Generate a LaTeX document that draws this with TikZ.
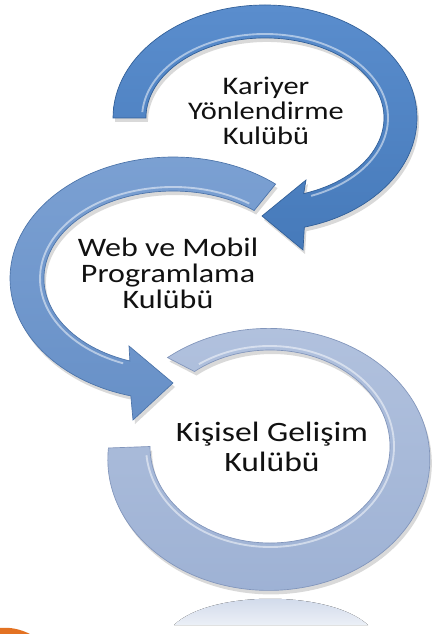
\documentclass[tikz,border=0pt]{standalone}
\usepackage{fontspec}
\setmainfont{Carlito}
\definecolor{ringAmain}{HTML}{467ABA}
\definecolor{ringAtop}{HTML}{5A8DCD}
\definecolor{ringAdark}{HTML}{305E97}
\definecolor{ringBmain}{HTML}{6790C7}
\definecolor{ringBtop}{HTML}{7CA1D3}
\definecolor{ringBdark}{HTML}{4B73A9}
\definecolor{ringCmain}{HTML}{9DB1D4}
\definecolor{ringCtop}{HTML}{B2C2DE}
\definecolor{ringCdark}{HTML}{8195BB}
\definecolor{txt}{HTML}{111111}
\definecolor{orangeblob}{HTML}{E37222}
% ring shapes (coordinates: pixels, y upwards negative)
\newcommand\shapeRingA[1]{\path[#1] (113,-118)
  arc[start angle=180,end angle=-75,x radius=152,y radius=113]
  -- (303,-250) -- (262,-216) -- (306,-180) -- (303.7,-193.6)
  arc[start angle=-71,end angle=180,x radius=119,y radius=80] -- cycle;}
\newcommand\shapeRingB[1]{\path[#1] (275.6,-184.1)
  arc[start angle=51,end angle=255,x radius=163,y radius=121.5]
  -- (133,-420) -- (173,-383) -- (129,-346) -- (129.9,-361)
  arc[start angle=250.5,end angle=51,x radius=129,y radius=87.5] -- cycle;}
\newcommand\shapeRingC[1]{\path[#1] (167.5,-357.6)
  arc[start angle=129,end angle=-185,x radius=161,y radius=131]
  -- (150,-446.5)
  arc[start angle=-180,end angle=129,x radius=120,y radius=96.5] -- cycle;}
\begin{document}
\begin{tikzpicture}[x=0.75pt,y=0.75pt,
  ringtext/.style={align=center, text=txt, inner sep=0pt, xscale=1.2},
  shadowfill/.style={fill=black, opacity=0.15},
  hilite/.style={draw=white, opacity=0.5, line width=1.4},
]
\useasboundingbox (0,0) rectangle (433,-634);
\fill[white] (0,0) rectangle (433,-634);

% reflection of the lower ring
\fill[top color=ringCmain!55!white, bottom color=ringCmain!20!white]
  (174,-625) .. controls (210,-590) and (330,-590) .. (368,-625) -- cycle;
% orange fragment, bottom left
\fill[orangeblob] (0,-628) .. controls (10,-627) and (20,-629) .. (30,-634) -- (0,-634) -- cycle;

% lower ring
\begin{scope}[shift={(2,-4)}]\shapeRingC{shadowfill}\end{scope}
\shapeRingC{top color=ringCtop, bottom color=ringCmain, draw=ringCdark, line width=0.5}
\draw[hilite] ([shift={(125:124 and 100.5)}]270,-446.5)
  arc[start angle=125,end angle=-175,x radius=124,y radius=100.5];

% middle ring
\begin{scope}[shift={(2,-4)}]\shapeRingB{shadowfill}\end{scope}
\shapeRingB{top color=ringBtop, bottom color=ringBmain, draw=ringBdark, line width=0.5}
\draw[hilite] ([shift={(55:133 and 91.5)}]173,-278.5)
  arc[start angle=55,end angle=248,x radius=133,y radius=91.5];

% upper ring
\begin{scope}[shift={(2,-4)}]\shapeRingA{shadowfill}\end{scope}
\shapeRingA{top color=ringAtop, bottom color=ringAmain, draw=ringAdark, line width=0.5}
\draw[hilite] ([shift={(176:123 and 84)}]265,-118)
  arc[start angle=176,end angle=-68,x radius=123,y radius=84];

% texts
\node[ringtext, font=\fontsize{19}{18.75}\selectfont] (kariyer) at (266,-111) {Kariyer\\Yönlendirme\\Kulübü};
\node[ringtext, font=\fontsize{20}{19.5}\selectfont] (web) at (168,-273) {Web ve Mobil\\Programlama\\Kulübü};
\node[ringtext, font=\fontsize{21}{23}\selectfont] (kisisel) at (272,-447) {Kişisel Gelişim\\Kulübü};
\end{tikzpicture}
\end{document}
